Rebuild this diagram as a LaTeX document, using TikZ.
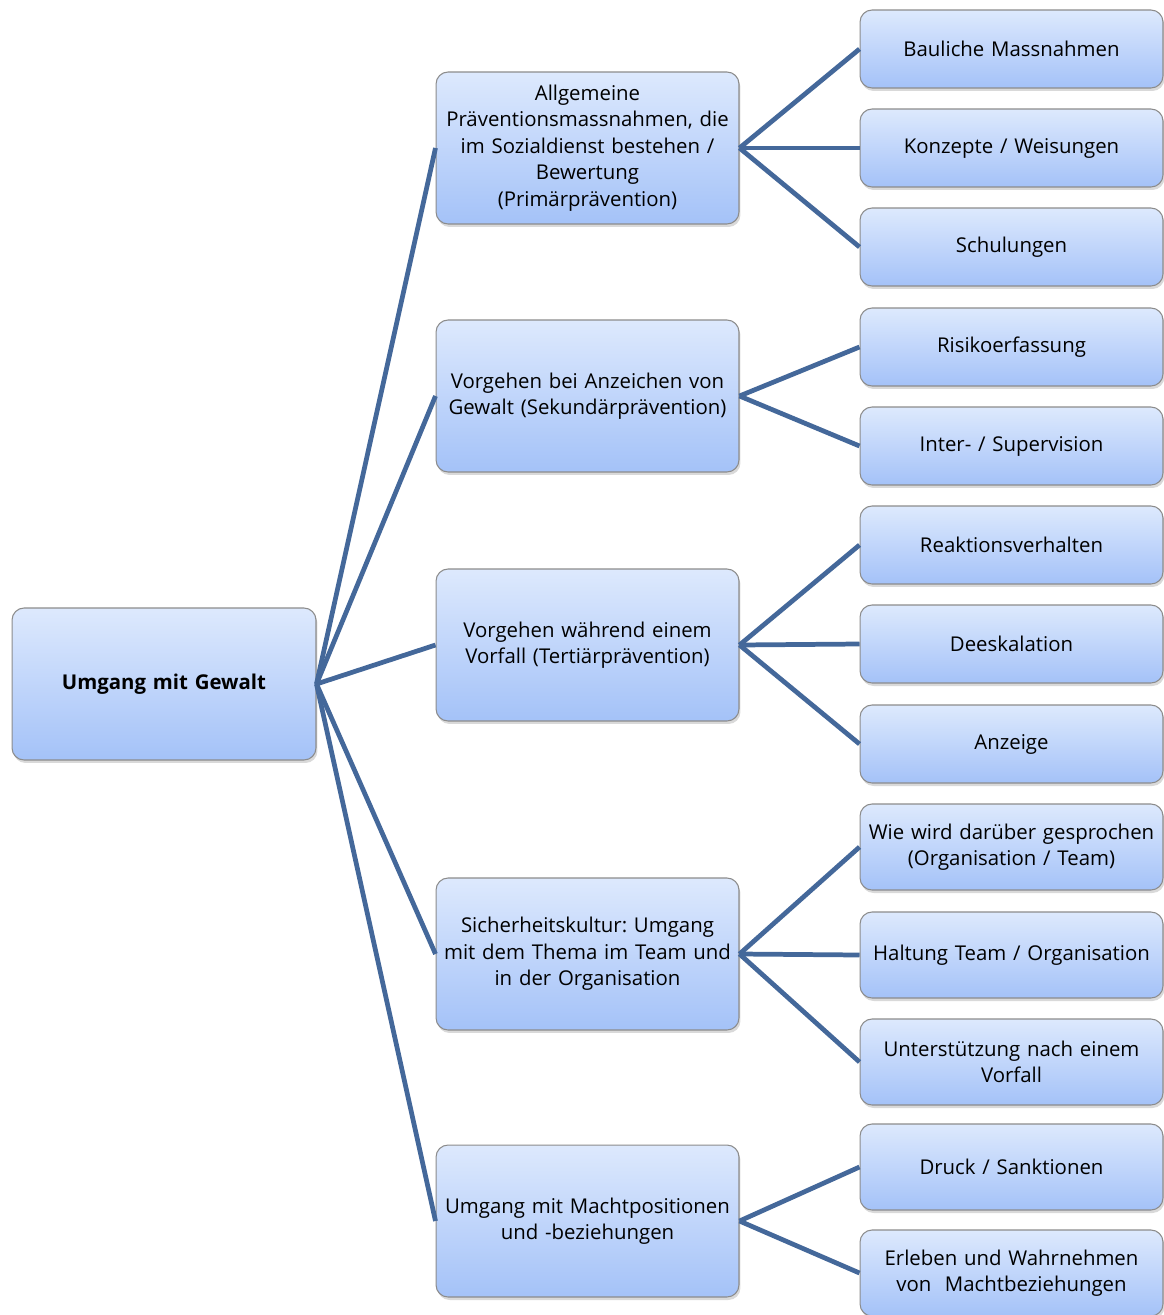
\documentclass[tikz,border=0pt]{standalone}
\usepackage{fontspec}
\setmainfont{Open Sans}
\frenchspacing
\usepackage{tikz}
\usetikzlibrary{positioning,shadows}
\definecolor{umtop}{HTML}{DDE9FD}
\definecolor{umbottom}{HTML}{A4C2F8}
\definecolor{umline}{HTML}{44689A}
\definecolor{umframe}{HTML}{8C8C8C}

\begin{document}
\begin{tikzpicture}[x=0.02cm, y=-0.02cm,
    box/.style={rectangle, rounded corners=0.24cm, draw=umframe, line width=0.6pt,
      top color=umtop, bottom color=umbottom, align=center, inner sep=1pt,
      text width=5.98cm, minimum width=6.06cm, font=\fontsize{11.6}{15}\selectfont,
      drop shadow={shadow xshift=0.03cm, shadow yshift=-0.06cm, opacity=0.3}},
    topic/.style={box, minimum height=3.04cm},
    leaf/.style={box, minimum height=1.56cm},
    tall/.style={box, minimum height=1.72cm},
    link/.style={umline, line width=2.7pt}
  ]
  \useasboundingbox (0,0) rectangle (1163,1315);

  % Root
  \node[topic, minimum width=6.08cm] (root) at (164,684) {\textbf{Umgang mit Gewalt}};

  % Level 1
  \node[topic] (prim) at (587.5,148) {Allgemeine\\Präventionsmassnahmen, die\\im Sozialdienst bestehen /\\Bewertung\\(Primärprävention)};
  \node[topic] (sek) at (587.5,396) {Vorgehen bei Anzeichen von\\Gewalt (Sekundärprävention)};
  \node[topic] (tert) at (587.5,645) {Vorgehen während einem\\Vorfall (Tertiärprävention)};
  \node[topic] (kultur) at (587.5,954) {Sicherheitskultur: Umgang\\mit dem Thema im Team und\\in der Organisation};
  \node[topic] (macht) at (587.5,1221) {Umgang mit Machtpositionen\\und -beziehungen};

  % Level 2
  \node[leaf] (baulich) at (1011.5,49) {Bauliche Massnahmen};
  \node[leaf] (konzepte) at (1011.5,148) {Konzepte / Weisungen};
  \node[leaf] (schulung) at (1011.5,247) {Schulungen};
  \node[leaf] (risiko) at (1011.5,347) {Risikoerfassung};
  \node[leaf] (supervision) at (1011.5,446) {Inter- / Supervision};
  \node[leaf] (reaktion) at (1011.5,545) {Reaktionsverhalten};
  \node[leaf] (deeskal) at (1011.5,644) {Deeskalation};
  \node[leaf] (anzeige) at (1011.5,744) {Anzeige};
  \node[tall] (sprechen) at (1011.5,847) {Wie wird darüber gesprochen\\(Organisation / Team)};
  \node[tall] (haltung) at (1011.5,955) {Haltung Team / Organisation};
  \node[tall] (unterst) at (1011.5,1062) {Unterstützung nach einem\\Vorfall};
  \node[tall] (druck) at (1011.5,1167) {Druck / Sanktionen};
  \node[tall] (erleben) at (1011.5,1273) {Erleben und Wahrnehmen\\von~ Machtbeziehungen};

  % Connectors
  \foreach \t in {prim,sek,tert,kultur,macht}
    \draw[link] (root.east) -- (\t.west);
  \foreach \c in {baulich,konzepte,schulung}
    \draw[link] (prim.east) -- (\c.west);
  \foreach \c in {risiko,supervision}
    \draw[link] (sek.east) -- (\c.west);
  \foreach \c in {reaktion,deeskal,anzeige}
    \draw[link] (tert.east) -- (\c.west);
  \foreach \c in {sprechen,haltung,unterst}
    \draw[link] (kultur.east) -- (\c.west);
  \foreach \c in {druck,erleben}
    \draw[link] (macht.east) -- (\c.west);
\end{tikzpicture}
\end{document}
